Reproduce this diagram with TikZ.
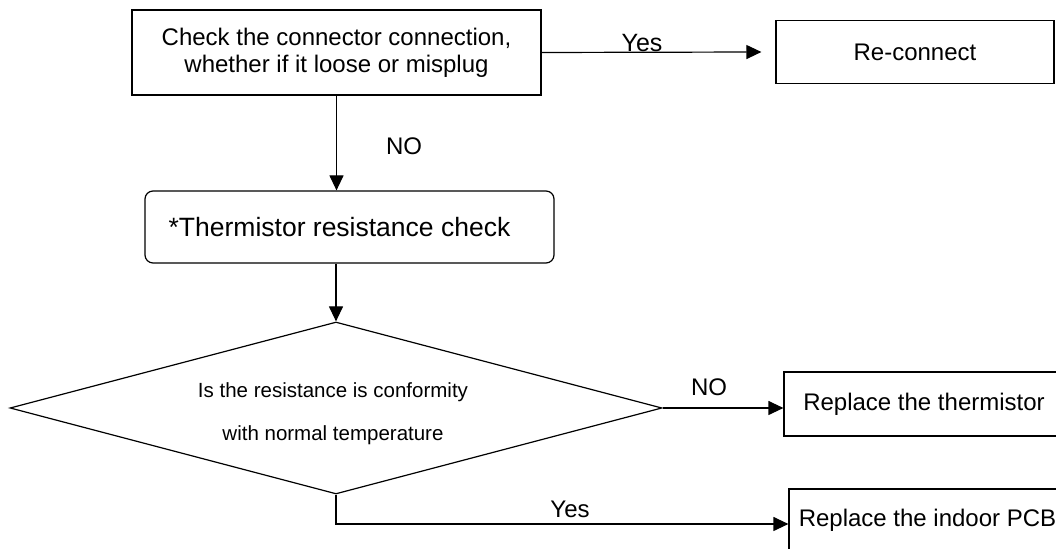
\documentclass[tikz,border=0pt]{standalone}
\usepackage{fontspec}
\setmainfont{Liberation Sans}
\usetikzlibrary{arrows.meta,shapes.geometric}

\begin{document}
\begin{tikzpicture}[
  x=0.5pt, y=-0.5pt,
  >={Triangle[length=7.5pt,width=7pt]},
  every node/.style={font=\fontsize{12}{13.5}\selectfont},
  box/.style={rectangle, draw, line width=0.6pt, align=center, inner sep=0pt},
  roundbox/.style={box, rounded corners=4pt},
  decision/.style={diamond, draw, line width=0.6pt, inner sep=0pt, aspect=3.8},
  flow/.style={->, line width=0.6pt},
  answer/.style={inner sep=0pt},
]
\useasboundingbox (0,0) rectangle (1056,549);

% ========= Steps =========
\node[box, minimum width=204.5pt, minimum height=42.5pt] at (336.5,52.5) (chk)
  {Check the connector connection,\\whether if it loose or misplug};
\node[box, minimum width=139pt, minimum height=31.5pt] at (915,52) (recon) {Re-connect};
\node[roundbox, minimum width=204.5pt, minimum height=36pt,
      font=\fontsize{13.25}{16}\selectfont] at (349.5,227) (therm)
  {*Thermistor resistance check\hspace*{10pt}};

% ========= Decision =========
\node[decision, minimum width=326pt, minimum height=86pt] at (336,408) (dia) {};
\node[answer, align=center, font=\fontsize{10.25}{21.5}\selectfont]
  at (333,414) (diatxt) {Is the resistance is conformity\\with normal temperature};

% ========= Results =========
\node[box, minimum width=140pt, minimum height=32pt] at (924,404) (rthm) {Replace the thermistor};
\node[box, minimum width=138.5pt, minimum height=31pt] at (927.5,520) (rpcb) {Replace the indoor PCB};

% ========= Connectors =========
\draw[flow] (chk.east) -- ([xshift=-7pt]recon.west);
\draw[flow] (chk.south) -- (chk.south |- therm.north);
\draw[flow] (therm.south -| dia.north) -- (dia.north);
\draw[flow] (dia.east) -- (dia.east -| rthm.west);
\draw[flow] (dia.south) |- ([yshift=-2pt]rpcb.west);

% ========= Answers =========
\node[answer, anchor=base, font=\fontsize{12.5}{14}\selectfont] at (642,52) (yes1) {Yes};
\node[answer] at (404,146) (no1) {NO};
\node[answer] at (709,387) (no2) {NO};
\node[answer] at (570,509) (yes2) {Yes};

\end{tikzpicture}
\end{document}
